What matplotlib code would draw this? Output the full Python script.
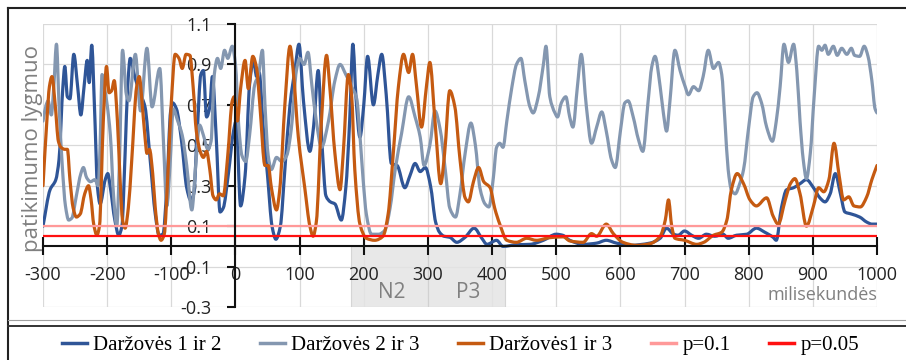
import numpy as np
import matplotlib
matplotlib.use("Agg")
import matplotlib.pyplot as plt
from matplotlib.path import Path
from matplotlib.patches import PathPatch, Rectangle
from matplotlib.lines import Line2D

plt.rcParams["axes.unicode_minus"] = False
plt.rcParams["font.family"] = ["Open Sans", "DejaVu Sans"]

# ---- data -------------------------------------------------------------
t12 = [-300, -289, -280, -275, -269, -266, -262, -258, -252, -246, -241, -236, -231, -228,
       -224, -220, -215, -211, -203, -199, -195, -188, -182, -177, -172, -168, -164, -157,
       -149, -141, -133, -125, -119, -113, -107, -101, -98, -92, -84, -76, -70, -65, -60,
       -54, -50, -45, -40, -36, -30, -24, -19, -11, -3, 1, 8, 15, 22, 28, 33, 37, 43, 50,
       57, 63, 70, 77, 85, 93, 99, 106, 116, 122, 129, 135, 141, 148, 155, 165, 172, 178,
       183, 188, 194, 200, 206, 215, 222, 228, 235, 243, 252, 264, 272, 280, 288, 296, 304,
       312, 318, 325, 334, 345, 358, 372, 384, 392, 407, 417, 438, 459, 480, 500, 510, 521,
       542, 563, 578, 594, 615, 646, 662, 672, 683, 690, 700, 711, 722, 734, 747, 760, 768,
       781, 797, 812, 825, 838, 843, 851, 859, 870, 880, 890, 901, 911, 919, 927, 935, 943,
       950, 960, 973, 984, 992, 1000]
v12 = [0.10, 0.28, 0.33, 0.43, 0.79, 0.89, 0.74, 0.73, 0.95, 0.79, 0.65, 0.79, 0.92, 0.81,
       0.995, 0.71, 0.29, 0.21, 0.33, 0.36, 0.29, 0.13, 0.055, 0.10, 0.46, 0.79, 0.93, 0.84,
       0.76, 0.69, 0.43, 0.16, 0.055, 0.06, 0.29, 0.67, 0.71, 0.68, 0.52, 0.29, 0.23, 0.26, 0.54,
       0.85, 0.87, 0.64, 0.69, 0.84, 0.54, 0.17, 0.19, 0.36, 0.57, 0.62, 0.20, 0.35, 0.80, 0.92,
       0.84, 0.86, 0.60, 0.35, 0.10, 0.035, 0.10, 0.38, 0.70, 0.88, 1.0, 0.72, 0.47, 0.60, 0.87,
       0.50, 0.25, 0.22, 0.21, 0.13, 0.29, 0.62, 1.0, 0.73, 0.54, 0.70, 0.94, 0.70, 0.85, 0.95,
       0.75, 0.41, 0.40, 0.29, 0.35, 0.41, 0.37, 0.39, 0.30, 0.12, 0.07, 0.05, 0.045, 0.02,
       0.045, 0.09, 0.04, 0.01, 0.03, 0.0, 0.008, 0.01, 0.03, 0.06, 0.055, 0.03, 0.01, 0.016,
       0.03, 0.016, 0.005, 0.016, 0.04, 0.09, 0.06, 0.055, 0.076, 0.055, 0.04, 0.06, 0.05, 0.06,
       0.04, 0.055, 0.06, 0.09, 0.07, 0.045, 0.03, 0.19, 0.28, 0.29, 0.31, 0.33, 0.29, 0.24,
       0.22, 0.26, 0.36, 0.26, 0.17, 0.16, 0.145, 0.12, 0.11, 0.11]

t23 = [-300, -295, -292, -287, -283, -279, -275, -270, -265, -260, -255, -248, -241, -237,
       -232, -226, -219, -214, -211, -208, -204, -200, -195, -190, -185, -181, -176, -170,
       -166, -156, -148, -138, -130, -118, -112, -107, -102, -97, -90, -83, -76, -68, -62,
       -56, -50, -43, -38, -33, -28, -23, -17, -12, -5, 0, 5, 10, 16, 22, 30, 36, 42, 46, 51,
       56, 64, 72, 80, 87, 95, 100, 107, 113, 119, 126, 134, 145, 155, 163, 172, 181, 189,
       194, 199, 204, 212, 223, 233, 241, 249, 259, 270, 280, 288, 294, 303, 311, 319, 327,
       334, 343, 350, 358, 367, 374, 381, 389, 395, 402, 407, 412, 417, 423, 431, 438, 445,
       451, 459, 464, 472, 480, 484, 490, 498, 502, 508, 515, 521, 526, 533, 539, 547, 555,
       563, 571, 578, 586, 592, 600, 607, 612, 620, 628, 635, 643, 649, 654, 662, 667, 672,
       677, 685, 693, 701, 706, 714, 722, 729, 737, 745, 753, 758, 763, 768, 773, 779, 786,
       792, 800, 807, 813, 820, 828, 837, 843, 849, 855, 862, 870, 875, 880, 885, 890, 896,
       902, 909, 914, 919, 924, 932, 938, 945, 953, 960, 965, 973, 980, 986, 992, 997, 1000]
v23 = [0.62, 0.70, 0.72, 0.65, 0.80, 1.0, 0.70, 0.40, 0.20, 0.13, 0.14, 0.25, 0.36, 0.39,
       0.34, 0.32, 0.33, 0.30, 0.50, 0.85, 0.78, 0.70, 0.55, 0.25, 0.10, 0.40, 0.97, 0.75,
       0.72, 0.95, 0.67, 0.98, 0.69, 0.88, 0.50, 0.20, 0.40, 0.68, 0.62, 0.55, 0.40, 0.18, 0.40,
       0.60, 0.55, 0.48, 0.52, 0.85, 0.93, 0.88, 0.97, 0.93, 0.99, 0.90, 0.60, 0.45, 0.42, 0.55,
       0.80, 0.85, 0.97, 0.70, 0.45, 0.38, 0.44, 0.42, 0.45, 0.58, 0.87, 0.93, 0.90, 0.96, 0.80,
       0.62, 0.49, 0.62, 0.82, 0.90, 0.85, 0.79, 0.73, 0.55, 0.33, 0.16, 0.06, 0.06, 0.08, 0.19,
       0.38, 0.56, 0.74, 0.64, 0.54, 0.40, 0.50, 0.67, 0.58, 0.38, 0.19, 0.145, 0.26, 0.46,
       0.61, 0.50, 0.29, 0.21, 0.195, 0.34, 0.49, 0.51, 0.49, 0.62, 0.79, 0.90, 0.93, 0.82,
       0.69, 0.66, 0.74, 0.90, 0.99, 0.74, 0.66, 0.64, 0.71, 0.74, 0.64, 0.59, 0.79, 0.95, 0.69,
       0.51, 0.59, 0.665, 0.57, 0.43, 0.39, 0.57, 0.71, 0.72, 0.64, 0.53, 0.47, 0.71, 0.89,
       0.94, 0.79, 0.66, 0.57, 0.71, 0.97, 0.87, 0.79, 0.75, 0.79, 0.77, 0.84, 0.97, 0.88, 0.91,
       0.85, 0.62, 0.38, 0.28, 0.26, 0.31, 0.38, 0.59, 0.74, 0.76, 0.71, 0.59, 0.52, 0.62, 0.79,
       1.0, 0.91, 1.0, 0.87, 0.62, 0.43, 0.335, 0.46, 0.74, 0.99, 0.97, 0.995, 0.95, 0.99, 0.945,
       0.98, 0.95, 0.98, 0.945, 0.94, 0.99, 0.94, 0.82, 0.68, 0.66]

t13 = [-300, -294, -290, -286, -281, -276, -272, -266, -262, -258, -253, -248, -242, -235,
       -229, -225, -221, -216, -212, -206, -201, -197, -193, -189, -184, -180, -176, -172,
       -167, -162, -154, -150, -145, -141, -138, -134, -129, -125, -120, -116, -111, -105,
       -100, -94, -88, -83, -77, -71, -66, -61, -55, -50, -45, -40, -35, -30, -25, -19, -12,
       -5, -2, 3, 8, 15, 20, 27, 33, 38, 46, 51, 56, 64, 69, 77, 85, 90, 98, 108, 116, 121,
       126, 134, 142, 147, 155, 163, 168, 176, 181, 186, 194, 204, 217, 230, 238, 246, 254,
       262, 270, 276, 282, 290, 298, 303, 311, 320, 326, 334, 342, 350, 358, 363, 371, 379,
       387, 397, 404, 412, 423, 438, 454, 469, 490, 511, 521, 542, 555, 563, 578, 589, 604,
       625, 646, 662, 670, 675, 680, 685, 700, 719, 730, 745, 758, 766, 773, 782, 792, 802,
       812, 828, 838, 846, 857, 865, 872, 880, 890, 901, 909, 917, 925, 933, 941, 948, 956,
       964, 974, 984, 992, 1000]
v13 = [0.30, 0.62, 0.79, 0.84, 0.70, 0.52, 0.49, 0.48, 0.48, 0.33, 0.19, 0.145, 0.16, 0.26,
       0.30, 0.23, 0.11, 0.055, 0.10, 0.62, 0.89, 0.76, 0.77, 0.82, 0.62, 0.34, 0.13, 0.09,
       0.19, 0.41, 0.79, 0.84, 0.69, 0.54, 0.46, 0.48, 0.36, 0.19, 0.06, 0.03, 0.06, 0.38,
       0.71, 0.95, 0.93, 0.88, 0.95, 0.945, 0.79, 0.57, 0.47, 0.44, 0.47, 0.38, 0.25, 0.23,
       0.26, 0.25, 0.45, 0.72, 0.74, 0.62, 0.78, 0.92, 0.78, 0.94, 0.88, 0.70, 0.40, 0.40, 0.29,
       0.18, 0.28, 0.70, 0.99, 0.87, 0.54, 0.29, 0.10, 0.05, 0.12, 0.62, 0.945, 0.79, 0.46,
       0.28, 0.46, 0.85, 0.75, 0.38, 0.11, 0.04, 0.03, 0.05, 0.16, 0.46, 0.79, 0.95, 0.86, 0.95,
       0.80, 0.59, 0.80, 0.91, 0.62, 0.31, 0.46, 0.77, 0.69, 0.43, 0.24, 0.22, 0.32, 0.39, 0.32,
       0.29, 0.19, 0.11, 0.03, 0.02, 0.04, 0.03, 0.043, 0.047, 0.027, 0.02, 0.063, 0.05, 0.11,
       0.063, 0.02, 0.005, 0.013, 0.05, 0.13, 0.23, 0.10, 0.04, 0.03, 0.01, 0.02, 0.055, 0.07,
       0.13, 0.28, 0.36, 0.31, 0.23, 0.20, 0.24, 0.15, 0.11, 0.23, 0.31, 0.335, 0.26, 0.10,
       0.20, 0.29, 0.27, 0.33, 0.51, 0.35, 0.23, 0.245, 0.20, 0.195, 0.245, 0.33, 0.40]

p_levels = [0.1, 0.05]
series_names = ["Daržovės 1 ir 2", "Daržovės 2 ir 3", "Daržovės1 ir 3"]
p_names = ["p=0.1", "p=0.05"]
x_ticks = list(range(-300, 1001, 100))
y_ticks = [-0.3, -0.1, 0.1, 0.3, 0.5, 0.7, 0.9, 1.1]
windows = [("N2", 180, 300), ("P3", 300, 420)]

series_colors = ["#2F5597", "#8497B0", "#C55A11"]
p_colors = ["#FF9999", "#FF1010"]
gray_text = "#808080"


def smooth_path(x, y):
    """Monotone cubic (Bezier) path through the given samples."""
    x = np.asarray(x, float)
    y = np.asarray(y, float)
    h = np.diff(x)
    d = np.diff(y) / h
    m = np.zeros_like(y)
    for i in range(1, len(y) - 1):
        if d[i - 1] * d[i] > 0:
            w1 = 2 * h[i] + h[i - 1]
            w2 = h[i] + 2 * h[i - 1]
            m[i] = (w1 + w2) / (w1 / d[i - 1] + w2 / d[i])
    m[0], m[-1] = d[0], d[-1]
    verts = [(x[0], y[0])]
    codes = [Path.MOVETO]
    for i in range(len(x) - 1):
        dx = h[i] / 3.0
        verts += [(x[i] + dx, y[i] + m[i] * dx),
                  (x[i + 1] - dx, y[i + 1] - m[i + 1] * dx),
                  (x[i + 1], y[i + 1])]
        codes += [Path.CURVE4] * 3
    return Path(verts, codes)


fig = plt.figure(figsize=(9.06, 3.6), dpi=100)
ax = fig.add_axes([43 / 906, 1 - 307 / 360, 834 / 906, 283 / 360])
ax.set_xlim(-300, 1000)
ax.set_ylim(-0.3, 1.1)

# grid
for xv in x_ticks:
    ax.axvline(xv, color="#D9D9D9", lw=0.9, zorder=0)
for yv in y_ticks:
    ax.axhline(yv, color="#D9D9D9", lw=0.9, zorder=0)

# ERP component windows
for name, a, b in windows:
    ax.add_patch(Rectangle((a, -0.3), b - a, 0.3, facecolor="#E4E4E4",
                           edgecolor="#D0D0D0", lw=0.8, alpha=0.85, zorder=0.5))
    ax.text((a + b) / 2 + 3, -0.228, name, ha="center", va="center",
            fontsize=15, color=gray_text, zorder=1)

# series
for (t, v), c in zip([(t12, v12), (t23, v23), (t13, v13)], series_colors):
    ax.add_patch(PathPatch(smooth_path(t, v), facecolor="none", edgecolor=c,
                           lw=2.3, capstyle="round", joinstyle="round", zorder=2))

for lvl, c in zip(p_levels, p_colors):
    ax.plot([-300, 1000], [lvl, lvl], color=c, lw=1.6, zorder=3)

# axes through the origin
for s in ("top", "right"):
    ax.spines[s].set_visible(False)
ax.spines["left"].set_position(("data", 0))
ax.spines["bottom"].set_position(("data", 0))
for s in ("left", "bottom"):
    ax.spines[s].set_linewidth(1.5)
    ax.spines[s].set_color("#111111")
    ax.spines[s].set_zorder(4)

ax.set_xticks(x_ticks)
ax.set_xticklabels([str(v) for v in x_ticks])
ax.set_yticks(y_ticks)
ax.set_yticklabels([f"{v:.1f}" for v in y_ticks])
ax.tick_params(axis="x", direction="inout", length=13, width=1.5, color="#111111",
               labelsize=13, labelcolor="#222222", pad=8)
ax.tick_params(axis="y", direction="out", length=6, width=1.5, color="#111111",
               labelsize=13, labelcolor="#222222", pad=11)

ax.text(1000, -0.265, "milisekundės", ha="right", va="baseline",
        fontsize=13, color=gray_text)
fig.text(33 / 906, 1 - 148 / 360, "patikimumo lygmuo", rotation=90,
         ha="center", va="center", fontsize=16, color=gray_text)

# outer frame and separator
frame = dict(transform=fig.transFigure, color="#222222", lw=1.5)
fig.add_artist(Line2D([8 / 906, 1], [1 - 8 / 360, 1 - 8 / 360], **frame))
fig.add_artist(Line2D([8 / 906, 8 / 906], [0, 1 - 8 / 360], **frame))
fig.add_artist(Line2D([8 / 906, 1], [1 - 320 / 360, 1 - 320 / 360],
                      transform=fig.transFigure, color="#A0A0A0", lw=0.8))
fig.add_artist(Line2D([8 / 906, 1], [1 - 326 / 360, 1 - 326 / 360],
                      transform=fig.transFigure, color="#333333", lw=1.4))

handles = [Line2D([], [], color=c, lw=2.5) for c in series_colors + p_colors]
fig.legend(handles, series_names + p_names, loc="center",
           bbox_to_anchor=(0.508, 1 - 345 / 360), ncol=5, frameon=False,
           prop={"family": "Liberation Serif", "size": 15},
           handlelength=1.2, handletextpad=0.3, columnspacing=1.85)

fig.savefig("out.png", dpi=100)
